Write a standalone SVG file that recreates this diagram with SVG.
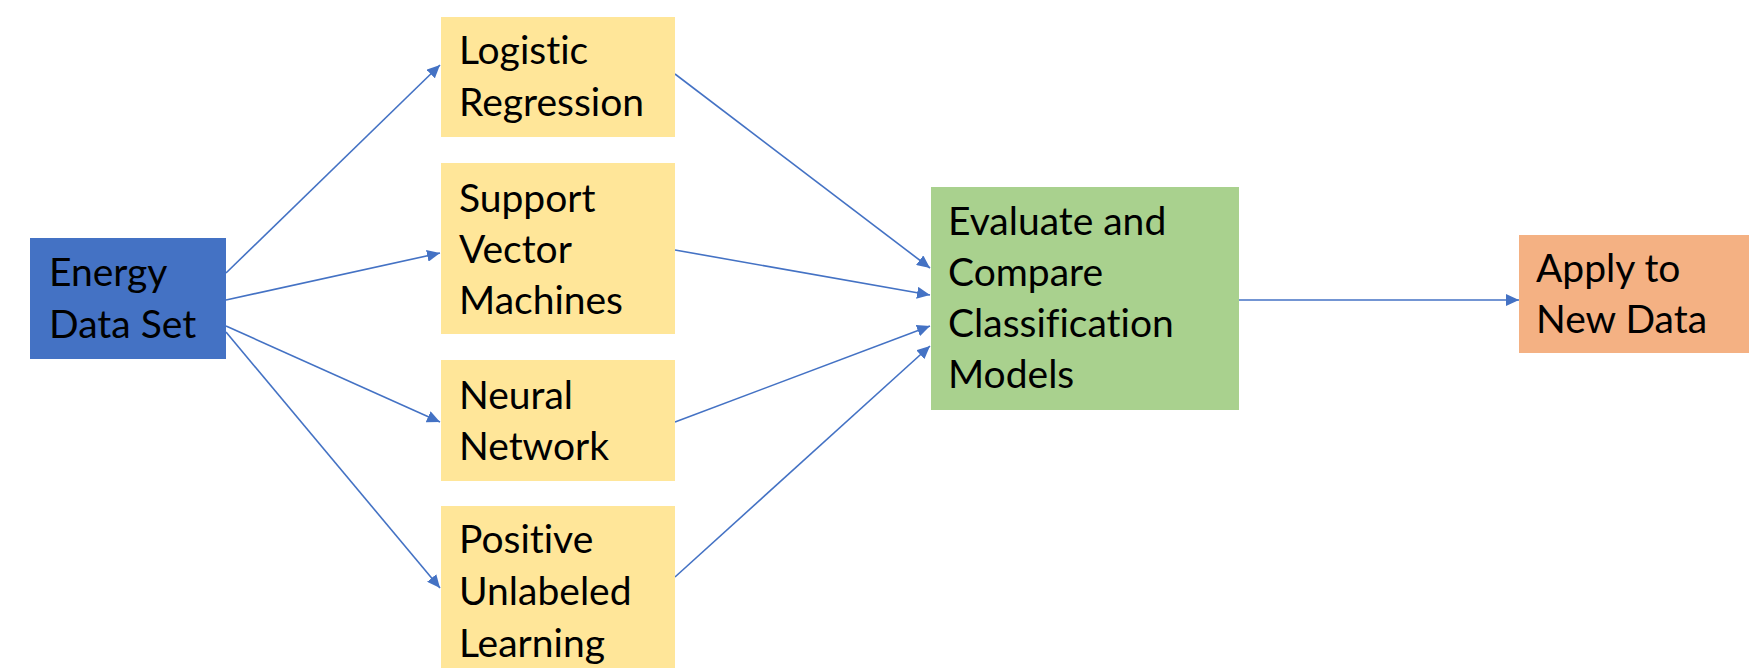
<svg xmlns="http://www.w3.org/2000/svg" width="1749" height="668" viewBox="0 0 1749 668">
  <defs>
    <marker id="arrow" markerUnits="userSpaceOnUse" markerWidth="14" markerHeight="12" refX="13" refY="6" orient="auto">
      <path d="M0,0 L13,6 L0,12 z" fill="#4472C4"/>
    </marker>
    <style>
      .lbl { font-family: Lato, "Liberation Sans", sans-serif; font-size: 39px; fill: #000; font-variant-ligatures: none; }
      .edge { stroke: #4472C4; stroke-width: 1.6; fill: none; marker-end: url(#arrow); }
      .src { fill: #4472C4; }
      .model { fill: #FFE699; }
      .eval { fill: #A9D18E; }
      .apply { fill: #F4B183; }
    </style>
  </defs>
  <rect width="1749" height="668" fill="#fff"/>

  <g id="connectors">
    <line class="edge" x1="226" y1="273" x2="440" y2="65"/>
    <line class="edge" x1="226" y1="300" x2="440" y2="253"/>
    <line class="edge" x1="226" y1="326" x2="440" y2="422"/>
    <line class="edge" x1="226" y1="332" x2="440" y2="588"/>
    <line class="edge" x1="675" y1="74" x2="930" y2="268"/>
    <line class="edge" x1="675" y1="250" x2="930" y2="295"/>
    <line class="edge" x1="675" y1="422" x2="930" y2="326"/>
    <line class="edge" x1="675" y1="577" x2="930" y2="346"/>
    <line class="edge" x1="1239" y1="300" x2="1519" y2="300"/>
  </g>

  <g id="energy-data-set">
    <rect class="src" x="30" y="238" width="196" height="121"/>
    <text class="lbl" x="49" y="286">Energy</text>
    <text class="lbl" x="49" y="338">Data Set</text>
  </g>

  <g id="logistic-regression">
    <rect class="model" x="441" y="17" width="234" height="120"/>
    <text class="lbl" x="459" y="64">Logistic</text>
    <text class="lbl" x="459" y="116">Regression</text>
  </g>

  <g id="support-vector-machines">
    <rect class="model" x="441" y="163" width="234" height="171"/>
    <text class="lbl" x="459" y="212">Support</text>
    <text class="lbl" x="459" y="263">Vector</text>
    <text class="lbl" x="459" y="314">Machines</text>
  </g>

  <g id="neural-network">
    <rect class="model" x="441" y="360" width="234" height="121"/>
    <text class="lbl" x="459" y="409">Neural</text>
    <text class="lbl" x="459" y="460">Network</text>
  </g>

  <g id="positive-unlabeled-learning">
    <rect class="model" x="441" y="506" width="234" height="170"/>
    <text class="lbl" x="459" y="553">Positive</text>
    <text class="lbl" x="459" y="605">Unlabeled</text>
    <text class="lbl" x="459" y="657">Learning</text>
  </g>

  <g id="evaluate-compare">
    <rect class="eval" x="931" y="187" width="308" height="223"/>
    <text class="lbl" x="948" y="235">Evaluate and</text>
    <text class="lbl" x="948" y="286">Compare</text>
    <text class="lbl" x="948" y="337">Classification</text>
    <text class="lbl" x="948" y="388">Models</text>
  </g>

  <g id="apply-new-data">
    <rect class="apply" x="1519" y="235" width="240" height="118"/>
    <text class="lbl" x="1536" y="282">Apply to</text>
    <text class="lbl" x="1536" y="333">New Data</text>
  </g>
</svg>
